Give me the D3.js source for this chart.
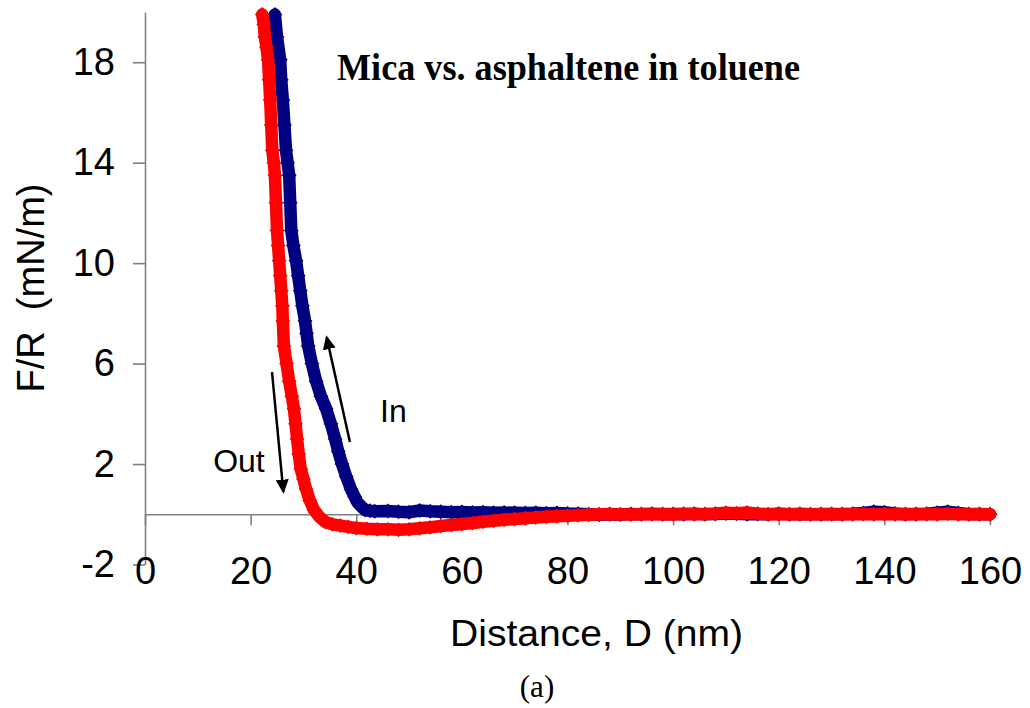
<!DOCTYPE html>
<html>
<head>
<meta charset="utf-8">
<script src="https://cdn.jsdelivr.net/npm/d3@7"></script>
<style>
  body { margin: 0; background: #fff; }
  .axis path, .axis line { stroke: #808080; stroke-width: 1.6; }
  .axis text { font-family: "Liberation Sans", Arial, sans-serif; font-size: 38px; fill: #000; }
</style>
</head>
<body>
<div id="chart"></div>
<script>
// "In" (approach) curve, navy
const inDist = [24.6, 25.0, 25.6, 25.8, 26.1, 26.4, 26.7, 27.0, 27.3, 27.5, 27.7, 28.1, 28.6, 29.0, 29.4, 29.8,
  30.3, 30.6, 30.9, 31.6, 32.4, 33.3, 34.3, 35.2, 36.0, 36.6, 37.3, 38.1, 39.0, 39.7, 40.3, 41.0, 41.7, 42.6, 43.5,
  46, 48, 50, 52, 54, 56, 58, 60, 62, 64, 66, 68, 70, 72, 74, 76, 78, 80, 82, 84, 86, 88, 90, 92, 94, 96, 98, 100,
  102, 104, 106, 108, 110, 112, 114, 116, 118, 120, 122, 124, 126, 128, 130, 132, 134, 136, 138, 140, 142, 144,
  146, 148, 150, 152, 154, 156, 158, 160];
const inForce = [19.9, 19.0, 18.1, 17.3, 16.5, 15.5, 14.5, 14.0, 13.5, 12.4, 11.3, 10.7, 10.1, 9.5, 8.9, 8.3,
  7.7, 7.2, 6.7, 6.0, 5.3, 4.7, 4.2, 3.6, 3.0, 2.5, 2.0, 1.5, 1.0, 0.7, 0.45, 0.3, 0.17, 0.14, 0.12,
  0.13, 0.10, 0.08, 0.15, 0.12, 0.10, 0.08, 0.09, 0.07, 0.08, 0.06, 0.07, 0.06, 0.05, 0.06, 0.04, 0.05, 0.03, 0.02, 0.0, -0.02, 0.0, -0.01, 0.01, 0.0, 0.02, 0.0, 0.01,
  0.0, 0.02, 0.0, 0.01, 0.03, 0.02, 0.0, 0.01, 0.0, 0.02, 0.0, 0.01, 0.0, 0.0, 0.01, 0.0, 0.02, 0.05, 0.1, 0.08, 0.03, 0.0,
  0.01, 0.02, 0.06, 0.1, 0.05, 0.0, 0.01, 0.0];

// "Out" (separation) curve, red
const outDist = [22.2, 22.5, 22.7, 23.0, 23.3, 23.5, 23.7, 23.9, 24.1, 24.4, 24.6, 24.8, 25.0, 25.2, 25.4, 25.6,
  25.8, 26.0, 26.1, 26.3, 26.8, 27.3, 27.8, 28.2, 28.5, 28.8, 29.1, 29.5, 30.0, 30.5, 31.2, 32.0, 33.0, 34.1,
  35.5, 37.0, 38.5, 40.0, 42.0, 44.0, 46, 48, 50, 52, 54, 56, 58, 60, 62, 64, 66, 68, 70, 72, 74, 76, 78, 80,
  82, 84, 86, 88, 90, 92, 94, 96, 98, 100, 102, 104, 106, 108, 110, 112, 114, 116, 118, 120, 122, 124, 126,
  128, 130, 132, 134, 136, 138, 140, 142, 144, 146, 148, 150, 152, 154, 156, 158, 160];
const outForce = [19.9, 19.5, 19.0, 18.6, 18.1, 17.3, 16.5, 15.5, 14.5, 14.0, 13.5, 12.4, 11.3, 10.7, 10.1, 9.5,
  8.9, 8.3, 7.7, 6.7, 6.0, 5.3, 4.7, 4.2, 3.6, 3.0, 2.4, 1.8, 1.4, 1.0, 0.55, 0.17, -0.1, -0.3,
  -0.4, -0.45, -0.5, -0.55, -0.58, -0.6, -0.6, -0.62, -0.6, -0.56, -0.52, -0.47, -0.43, -0.39, -0.35, -0.3, -0.26, -0.22, -0.19, -0.16, -0.13, -0.1, -0.08, -0.06,
  -0.04, -0.02, 0.0, 0.01, 0.0, -0.01, 0.01, 0.0, 0.01, 0.0, 0.02, 0.0, 0.01, 0.03, 0.06, 0.04, 0.07, 0.02, 0.0, 0.01, 0.0, 0.01, 0.0,
  0.01, 0.0, 0.01, 0.0, 0.01, 0.0, 0.01, 0.0, 0.01, 0.0, 0.01, 0.0, 0.02, 0.0, 0.01, 0.0, 0.0];

const xTicks = [0, 20, 40, 60, 80, 100, 120, 140, 160];
const yTicks = [-2, 2, 6, 10, 14, 18];

// arrows and their labels, in data units
const arrows = [
  {from: [24.05, 5.66], to: [26.2, 0.9]},   // Out
  {from: [38.8, 2.88], to: [34.4, 7.05]}    // In
];
const notes = [
  {text: "Out", at: [12.9, 1.69]},
  {text: "In", at: [44.5, 3.68]}
];

const margin = {top: 12, right: 40, bottom: 143.5, left: 145};
const width = 1030 - margin.left - margin.right;
const height = 708 - margin.top - margin.bottom;

const root = d3.select("#chart")
    .append("svg")
    .attr("width", 1030)
    .attr("height", 708);

const svg = root.append("g")
    .attr("transform", `translate(${margin.left},${margin.top})`);

const xScale = d3.scaleLinear().domain([0, 160]).range([0, width]);
const yScale = d3.scaleLinear().domain([-2, 20]).range([height, 0]);

// y axis along the left edge (plain hyphen for negatives, like Excel)
svg.append("g")
    .attr("class", "axis")
    .call(d3.axisLeft(yScale).tickValues(yTicks).tickFormat(d => String(d))
        .tickSize(12).tickSizeOuter(0).tickPadding(18));

// x axis sits on F/R = 0, labels pushed below the plot
svg.append("g")
    .attr("class", "axis")
    .attr("transform", `translate(0,${yScale(0)})`)
    .call(d3.axisBottom(xScale).tickValues(xTicks).tickFormat(d => String(d))
        .tickSize(11).tickSizeOuter(0).tickPadding(32));

// series: thick line through the points plus diamond markers
const lineGen = d3.line()
    .x(d => xScale(d[0]))
    .y(d => yScale(d[1]));

const diamond = d3.symbol().type(d3.symbolSquare).size(110);

function drawSeries(dist, force, color) {
    const pts = dist.map((d, i) => [d, force[i]]);
    svg.append("path")
        .datum(pts)
        .attr("fill", "none")
        .attr("stroke", color)
        .attr("stroke-width", 12.5)
        .attr("stroke-linejoin", "round")
        .attr("stroke-linecap", "round")
        .attr("d", lineGen);
    svg.append("g").selectAll("path")
        .data(pts)
        .enter()
        .append("path")
        .attr("d", diamond)
        .attr("fill", color)
        .attr("transform", d => `translate(${xScale(d[0])},${yScale(d[1])}) rotate(45)`);
}

drawSeries(inDist, inForce, "#000080");
drawSeries(outDist, outForce, "#ff0000");

// arrows
root.append("defs").append("marker")
    .attr("id", "head")
    .attr("markerUnits", "userSpaceOnUse")
    .attr("markerWidth", 15)
    .attr("markerHeight", 14)
    .attr("refX", 12)
    .attr("refY", 6.5)
    .attr("orient", "auto")
    .append("path")
    .attr("d", "M0,0L14,6.5L0,13Z")
    .attr("fill", "#000");

svg.selectAll(".arrow")
    .data(arrows)
    .enter()
    .append("line")
    .attr("class", "arrow")
    .attr("x1", d => xScale(d.from[0]))
    .attr("y1", d => yScale(d.from[1]))
    .attr("x2", d => xScale(d.to[0]))
    .attr("y2", d => yScale(d.to[1]))
    .attr("stroke", "#000")
    .attr("stroke-width", 2.5)
    .attr("marker-end", "url(#head)");

svg.selectAll(".note")
    .data(notes)
    .enter()
    .append("text")
    .attr("class", "note")
    .attr("x", d => xScale(d.at[0]))
    .attr("y", d => yScale(d.at[1]))
    .attr("font-family", "'Liberation Sans', Arial, sans-serif")
    .attr("font-size", 32)
    .text(d => d.text);

// titles
root.append("text")
    .attr("x", 337)
    .attr("y", 80)
    .attr("font-family", "'Liberation Serif', 'Times New Roman', serif")
    .attr("font-weight", "bold")
    .attr("font-size", 38)
    .attr("textLength", 463)
    .attr("lengthAdjust", "spacingAndGlyphs")
    .text("Mica vs. asphaltene in toluene");

root.append("text")
    .attr("x", 450)
    .attr("y", 646)
    .attr("font-family", "'Liberation Sans', Arial, sans-serif")
    .attr("font-size", 36)
    .attr("textLength", 293)
    .attr("lengthAdjust", "spacingAndGlyphs")
    .text("Distance, D (nm)");

root.append("text")
    .attr("transform", "translate(44,288) rotate(-90)")
    .attr("text-anchor", "middle")
    .attr("font-family", "'Liberation Sans', Arial, sans-serif")
    .attr("font-size", 38)
    .style("white-space", "pre")
    .text("F/R  (mN/m)");

root.append("text")
    .attr("x", 537)
    .attr("y", 697)
    .attr("text-anchor", "middle")
    .attr("font-family", "'Liberation Serif', 'Times New Roman', serif")
    .attr("font-size", 31)
    .text("(a)");
</script>
</body>
</html>
